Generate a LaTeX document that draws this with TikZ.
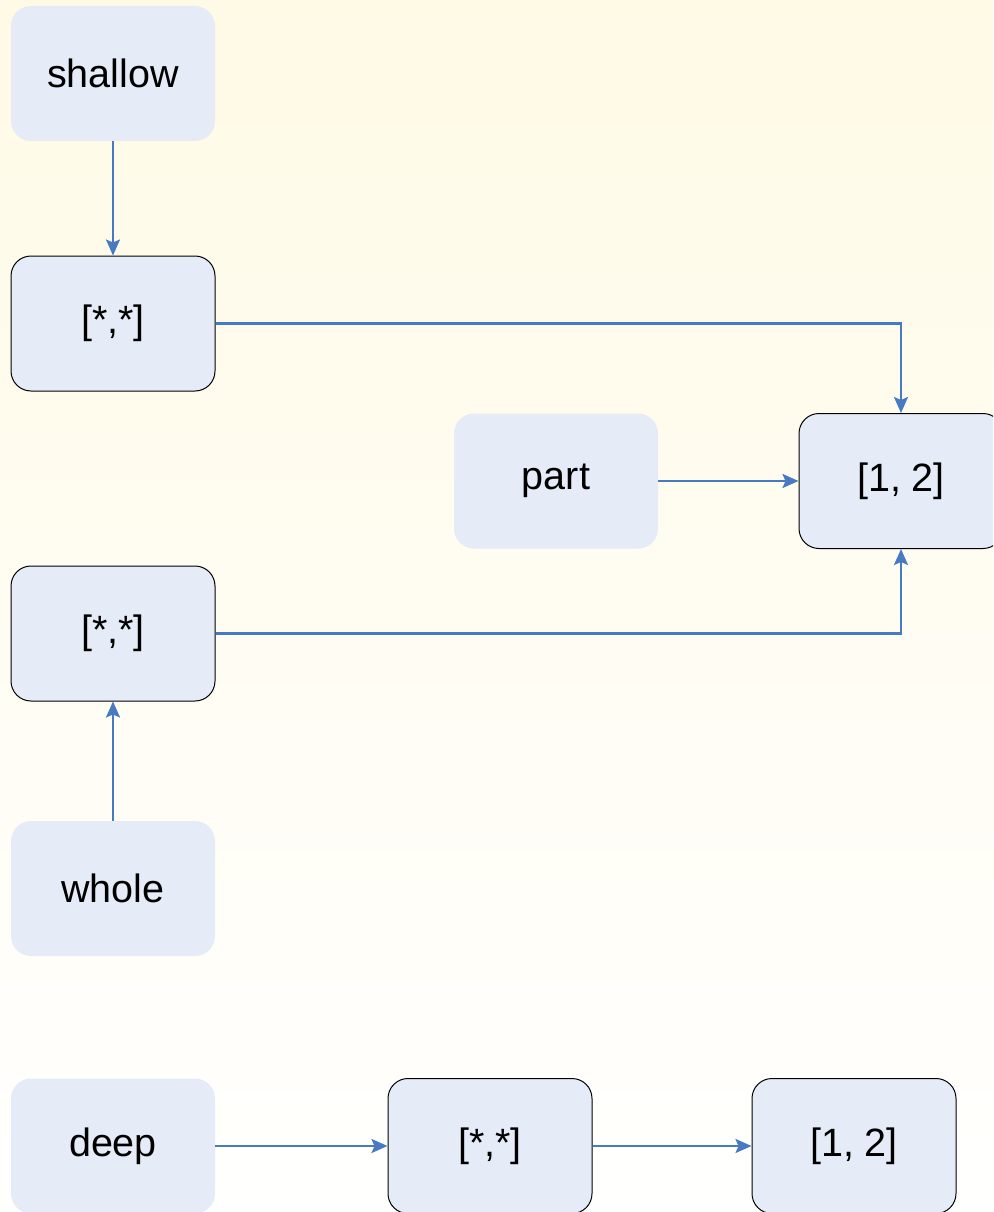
\documentclass[tikz,border=0pt]{standalone}
\usepackage{fontspec}
\setmainfont{Liberation Sans}
\usetikzlibrary{arrows.meta}
\definecolor{boxfill}{RGB}{230,236,247}
\definecolor{linkblue}{RGB}{72,122,196}
\definecolor{paletop}{RGB}{255,250,230}
\definecolor{palebottom}{RGB}{255,255,254}
\tikzset{
  plainbox/.style={rectangle, rounded corners=20pt, fill=boxfill,
    minimum width=204pt, minimum height=135pt, inner sep=0pt,
    font=\fontsize{39.5}{44}\selectfont},
  framedbox/.style={plainbox, draw=black, line width=1pt},
  link/.style={draw=linkblue, line width=2.2pt,
    -{Stealth[length=16pt,width=14pt,inset=3pt]}},
}
\begin{document}
\begin{tikzpicture}[x=1pt,y=-1pt]
  \useasboundingbox (0,0) rectangle (993,1212);
  \clip (0,0) rectangle (993,1212);
  \shade[top color=paletop, bottom color=palebottom] (0,0) rectangle (993,1212);

  % upper cluster
  \node[plainbox]  (shallow) at (113,73.5)  {shallow};
  \node[framedbox] (s1)      at (113,323.5) {[*,*]};
  \node[plainbox]  (part)    at (556,481)   {part};
  \node[framedbox] (r1)      at (901,481)   {[1, 2]};
  \node[framedbox] (w1)      at (113,633.5) {[*,*]};
  \node[plainbox]  (whole)   at (113,888.5) {whole};

  % lower row
  \node[plainbox]  (deep)    at (113,1146)  {deep};
  \node[framedbox] (d1)      at (490,1146)  {[*,*]};
  \node[framedbox] (d2)      at (854,1146)  {[1, 2]};

  \draw[link] (shallow) -- (s1);
  \draw[link] (s1.east) -| (r1.north);
  \draw[link] (part) -- (r1);
  \draw[link] (w1.east) -| (r1.south);
  \draw[link] (whole) -- (w1);
  \draw[link] (deep) -- (d1);
  \draw[link] (d1) -- (d2);
\end{tikzpicture}
\end{document}
